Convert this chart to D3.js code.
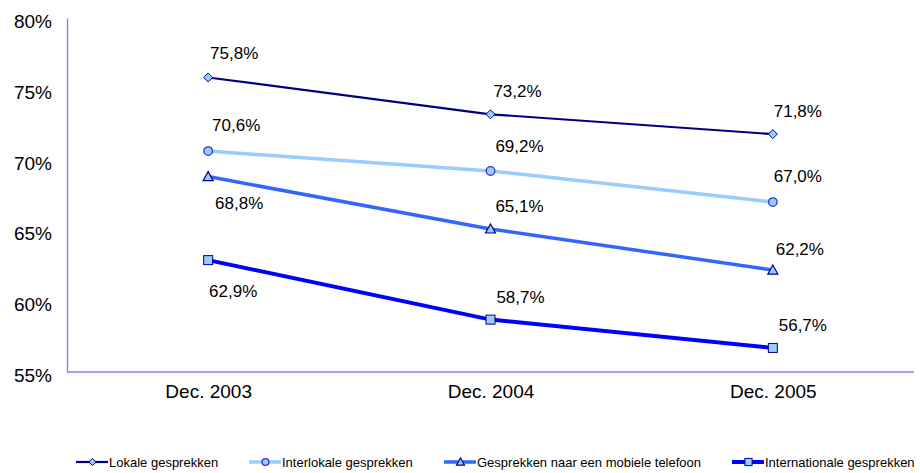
<!DOCTYPE html>
<html><head><meta charset="utf-8">
<script src="https://cdn.jsdelivr.net/npm/d3@7"></script>
<style>body{margin:0;background:#fff}svg{display:block;font-family:"Liberation Sans",Arial,sans-serif}</style>
</head><body><svg id="c" width="920" height="473"></svg>
<script>
const categories = ["Dec. 2003", "Dec. 2004", "Dec. 2005"];
const lokale = [75.8, 73.2, 71.8];
const interlokale = [70.6, 69.2, 67.0];
const mobiel = [68.8, 65.1, 62.2];
const internationaal = [62.9, 58.7, 56.7];
const yTicks = [55, 60, 65, 70, 75, 80];
const seriesNames = ["Lokale gesprekken", "Interlokale gesprekken", "Gesprekken naar een mobiele telefoon", "Internationale gesprekken"];

// styling / layout (not data)
const styles = [
  {color:"#000080", width:2.2, marker:"diamond", fill:"#99ccff", stroke:"#000080"},
  {color:"#99ccff", width:3.5, marker:"circle", fill:"#99ccff", stroke:"#3333cc"},
  {color:"#3366ff", width:3.5, marker:"triangle", fill:"#99ccff", stroke:"#000080"},
  {color:"#0000ff", width:4, marker:"square", fill:"#99ccff", stroke:"#000080"}
];
const labelOffsets = [
  [[26,-24],[27,-22.5],[25,-23]],
  [[28,-26],[29,-24],[25,-26]],
  [[31,27],[29,-22],[27,-21]],
  [[25,31],[30,-22],[30,-22]]
];
const legendX = [76, 249, 444, 732];

const series = [lokale, interlokale, mobiel, internationaal];
const svg = d3.select("#c");
const x = d3.scalePoint().domain(categories).range([67, 914]).padding(0.5);
const y = d3.scaleLinear().domain([55, 80]).range([372, 18]);

// axes
const yAxis = svg.append("g").attr("transform","translate(67,0)")
  .call(d3.axisLeft(y).tickValues(yTicks).tickSize(0).tickPadding(15).tickFormat(d => d + "%"));
yAxis.select(".domain").attr("stroke","#8080ff").attr("stroke-width",1.3);
yAxis.selectAll("text").attr("font-size",19).attr("fill","#000").attr("dy","0.5em");

const xAxis = svg.append("g").attr("transform","translate(0,372)")
  .call(d3.axisBottom(x).tickSize(0).tickPadding(13));
xAxis.select(".domain").attr("stroke","#8080ff").attr("stroke-width",1.3).attr("d","M67,0H914");
xAxis.selectAll("text").attr("font-size",19).attr("fill","#000");

function marker(g, type, cx, cy, st, size) {
  const s = size || 1;
  if (type === "diamond") {
    g.append("path").attr("d", `M${cx},${cy-4.5*s}L${cx+4.5*s},${cy}L${cx},${cy+4.5*s}L${cx-4.5*s},${cy}Z`)
      .attr("fill", st.fill).attr("stroke", st.stroke).attr("stroke-width",1);
  } else if (type === "circle") {
    g.append("circle").attr("cx",cx).attr("cy",cy).attr("r",4.3*s)
      .attr("fill", st.fill).attr("stroke", st.stroke).attr("stroke-width",1.3);
  } else if (type === "triangle") {
    g.append("path").attr("d", `M${cx},${cy-5*s}L${cx+5*s},${cy+4*s}L${cx-5*s},${cy+4*s}Z`)
      .attr("fill", st.fill).attr("stroke", st.stroke).attr("stroke-width",1.2);
  } else {
    g.append("rect").attr("x",cx-4.5*s).attr("y",cy-4.5*s).attr("width",9*s).attr("height",9*s)
      .attr("fill", st.fill).attr("stroke", st.stroke).attr("stroke-width",1);
  }
}

const line = d3.line().x((d,i) => x(categories[i])).y(d => y(d));
series.forEach((vals, si) => {
  const st = styles[si];
  const g = svg.append("g");
  g.append("path").attr("d", line(vals)).attr("fill","none")
    .attr("stroke", st.color).attr("stroke-width", st.width);
  vals.forEach((v, i) => marker(g, st.marker, x(categories[i]), y(v), st));
  vals.forEach((v, i) => {
    const [dx, dy] = labelOffsets[si][i];
    g.append("text").attr("x", x(categories[i]) + dx).attr("y", y(v) + dy)
      .attr("text-anchor","middle").attr("dominant-baseline","central")
      .attr("font-size",17).attr("fill","#000")
      .text(v.toFixed(1).replace(".", ",") + "%");
  });
});

// legend
seriesNames.forEach((name, si) => {
  const st = styles[si];
  const lx = legendX[si], ly = 462;
  const g = svg.append("g");
  g.append("line").attr("x1", lx).attr("x2", lx + 32).attr("y1", ly).attr("y2", ly)
    .attr("stroke", st.color).attr("stroke-width", st.width);
  marker(g, st.marker, lx + 16.5, ly, st, 0.8);
  g.append("text").attr("x", lx + 33).attr("y", ly).attr("dominant-baseline","central")
    .attr("font-size",13).attr("fill","#000").text(name);
});
</script></body></html>
